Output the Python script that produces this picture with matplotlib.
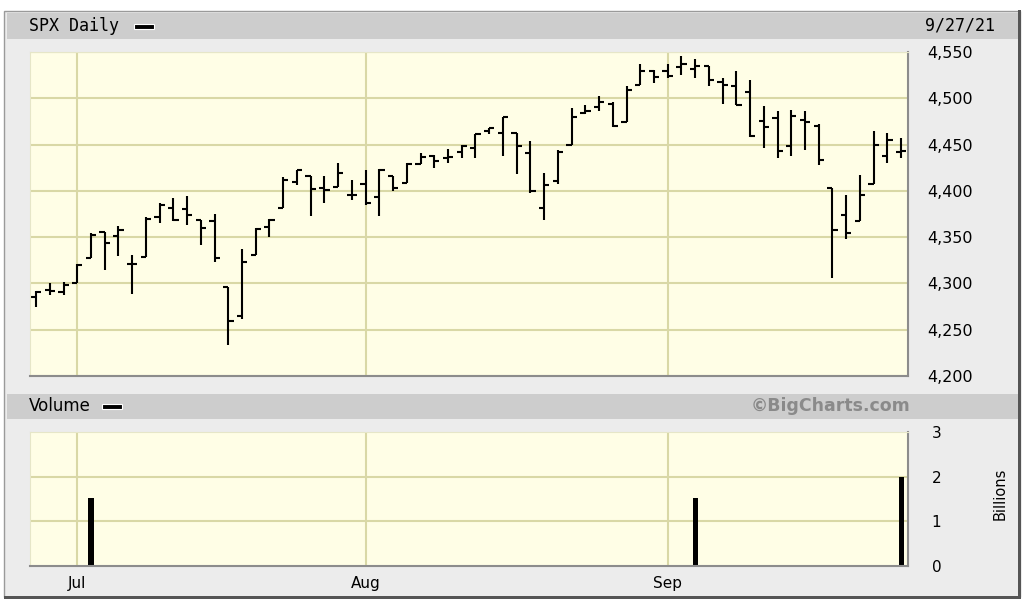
import matplotlib
matplotlib.use('Agg')
import matplotlib.pyplot as plt
from matplotlib.patches import Rectangle
import numpy as np

W, H = 1024, 601

# trading days shown on the chart
days = ['Jun 28', 'Jun 29', 'Jun 30',
        'Jul 1', 'Jul 2', 'Jul 6', 'Jul 7', 'Jul 8', 'Jul 9', 'Jul 12', 'Jul 13', 'Jul 14',
        'Jul 15', 'Jul 16', 'Jul 19', 'Jul 20', 'Jul 21', 'Jul 22', 'Jul 23', 'Jul 26',
        'Jul 27', 'Jul 28', 'Jul 29', 'Jul 30',
        'Aug 2', 'Aug 3', 'Aug 4', 'Aug 5', 'Aug 6', 'Aug 9', 'Aug 10', 'Aug 11', 'Aug 12',
        'Aug 13', 'Aug 16', 'Aug 17', 'Aug 18', 'Aug 19', 'Aug 20', 'Aug 23', 'Aug 24',
        'Aug 25', 'Aug 26', 'Aug 27', 'Aug 30', 'Aug 31',
        'Sep 1', 'Sep 2', 'Sep 3', 'Sep 7', 'Sep 8', 'Sep 9', 'Sep 10', 'Sep 13', 'Sep 14',
        'Sep 15', 'Sep 16', 'Sep 17', 'Sep 20', 'Sep 21', 'Sep 22', 'Sep 23', 'Sep 24', 'Sep 27']

opens = [4285, 4293, 4291, 4301, 4327, 4356, 4351, 4321, 4329, 4372, 4381, 4380,
         4369, 4367, 4296, 4265, 4331, 4361, 4381, 4410, 4416, 4403, 4404, 4395,
         4407, 4393, 4416, 4409, 4429, 4438, 4436, 4442, 4446, 4465, 4462, 4462,
         4441, 4382, 4411, 4450, 4484, 4491, 4494, 4474, 4514, 4530,
         4529, 4534, 4532, 4535, 4518, 4513, 4507, 4475, 4479, 4448, 4477, 4470,
         4403, 4374, 4367, 4407, 4438, 4442]
highs = [4292, 4300, 4302, 4321, 4355, 4356, 4362, 4331, 4372, 4387, 4392, 4394,
         4369, 4375, 4296, 4337, 4360, 4370, 4415, 4423, 4416, 4416, 4430, 4412,
         4422, 4424, 4416, 4430, 4441, 4439, 4445, 4449, 4461, 4468, 4480, 4462,
         4454, 4419, 4444, 4490, 4493, 4502, 4496, 4513, 4537, 4531,
         4537, 4546, 4542, 4535, 4522, 4530, 4520, 4492, 4486, 4487, 4486, 4472,
         4403, 4395, 4417, 4465, 4463, 4457]
lows = [4275, 4287, 4288, 4301, 4327, 4314, 4330, 4289, 4329, 4365, 4367, 4363,
        4341, 4323, 4233, 4262, 4331, 4350, 4381, 4406, 4373, 4387, 4404, 4390,
        4385, 4373, 4400, 4409, 4429, 4425, 4430, 4436, 4436, 4461, 4438, 4418,
        4398, 4368, 4407, 4450, 4483, 4486, 4469, 4474, 4514, 4516,
        4522, 4525, 4522, 4513, 4494, 4493, 4458, 4446, 4436, 4438, 4444, 4428,
        4306, 4348, 4367, 4407, 4430, 4436]
closes = [4291, 4292, 4298, 4320, 4352, 4344, 4358, 4321, 4370, 4385, 4369, 4374,
          4360, 4327, 4259, 4323, 4359, 4368, 4412, 4422, 4402, 4401, 4419, 4395,
          4387, 4423, 4403, 4429, 4437, 4432, 4437, 4448, 4461, 4468, 4480, 4448,
          4400, 4406, 4442, 4480, 4486, 4496, 4470, 4509, 4529, 4523,
          4524, 4537, 4535, 4520, 4514, 4493, 4459, 4469, 4443, 4481, 4474, 4433,
          4358, 4354, 4396, 4449, 4455, 4443]

vol_days = ['Jul 2', 'Sep 3', 'Sep 27']
vol_billions = [1.52, 1.52, 2.0]

month_days = ['Jul 1', 'Aug 2', 'Sep 1']
month_labels = ['Jul', 'Aug', 'Sep']

price_ticks = [4200, 4250, 4300, 4350, 4400, 4450, 4500, 4550]
vol_ticks = [0, 1, 2, 3]

BG = '#ececec'
HEAD = '#cdcdcd'
PLOT_BG = '#fffee6'
GRID = '#d9d8a6'


def box(x0, y0, x1, y1):
    # pixel box (top-left origin) -> figure fraction rect
    return [x0 / W, 1 - y1 / H, (x1 - x0) / W, (y1 - y0) / H]


def fx(x):
    return x / W


def fy(y):
    return 1 - y / H


def fig_rect(x0, y0, x1, y1, z=-5, **kw):
    fig.add_artist(Rectangle((fx(x0), fy(y1)), (x1 - x0) / W, (y1 - y0) / H,
                             transform=fig.transFigure, zorder=z, **kw))


fig = plt.figure(figsize=(W / 100, H / 100), dpi=100)
fig.patch.set_facecolor('white')

# outer frame
fig_rect(4, 11, 1020, 597, z=-10, facecolor=BG, edgecolor='#9a9a9a', linewidth=1)
fig_rect(1018, 10, 1021, 599, z=-9, facecolor='#555555', edgecolor='none')
fig_rect(4, 596, 1021, 599, z=-9, facecolor='#555555', edgecolor='none')

# header bars
for y0, y1 in [(13, 39), (394, 419)]:
    fig_rect(7, y0, 1018, y1, z=-8, facecolor=HEAD, edgecolor='none')

x = np.arange(len(days))
pos = {d: i for i, d in enumerate(days)}
xlim = (-0.44, 63.5)
tick = 0.38

# price panel
ax = fig.add_axes(box(30, 52, 908, 376))
ax.set_facecolor(PLOT_BG)
ax.set_xlim(*xlim)
ax.set_ylim(4200, 4550)
for p in price_ticks:
    ax.axhline(p, color=GRID, lw=1.5, zorder=0)
for d in month_days:
    ax.axvline(pos[d], color=GRID, lw=1.5, zorder=0)
ax.vlines(x, lows, highs, color='black', lw=1.5)
ax.hlines(opens, x - tick, x, color='black', lw=1.5)
ax.hlines(closes, x, x + tick, color='black', lw=1.5)
ax.set_xticks([])
ax.yaxis.tick_right()
ax.set_yticks(price_ticks)
ax.set_yticklabels(['{:,}'.format(p) for p in price_ticks], fontsize=11.5, family='DejaVu Sans')
ax.tick_params(axis='y', length=0, pad=14)
for s in ['top', 'left']:
    ax.spines[s].set_color('#e6e6c8')
for s in ['bottom', 'right']:
    ax.spines[s].set_color('#8c8c8c')
    ax.spines[s].set_linewidth(1.5)

# volume panel
av = fig.add_axes(box(30, 432, 908, 566))
av.set_facecolor(PLOT_BG)
av.set_xlim(*xlim)
av.set_ylim(0, 3)
for v in vol_ticks[1:3]:
    av.axhline(v, color=GRID, lw=1.5, zorder=0)
for d in month_days:
    av.axvline(pos[d], color=GRID, lw=1.5, zorder=0)
av.bar([pos[d] for d in vol_days], vol_billions, width=0.38, color='black')
av.set_xticks([pos[d] for d in month_days])
av.set_xticklabels(month_labels, fontsize=11)
av.tick_params(axis='x', length=0, pad=7)
av.yaxis.tick_right()
av.set_yticks(vol_ticks)
av.set_yticklabels([str(v) for v in vol_ticks], fontsize=11)
av.tick_params(axis='y', length=0, pad=17)
for s in ['top', 'left']:
    av.spines[s].set_color('#e6e6c8')
for s in ['bottom', 'right']:
    av.spines[s].set_color('#8c8c8c')
    av.spines[s].set_linewidth(1.5)

# header texts
fig.text(fx(29), fy(26), 'SPX Daily', family='DejaVu Sans Mono', fontsize=12, va='center', ha='left')
fig_rect(134, 24, 154, 29, z=2, facecolor='black', edgecolor='white', linewidth=0.8)
fig.text(fx(995), fy(26), '9/27/21', family='DejaVu Sans Mono', fontsize=12, va='center', ha='right')

fig.text(fx(29), fy(406), 'Volume', fontsize=12, va='center', ha='left')
fig_rect(102, 404, 122, 409, z=2, facecolor='black', edgecolor='white', linewidth=0.8)
fig.text(fx(910), fy(406), '©BigCharts.com', fontsize=12.5, fontweight='bold', color='#8a8a8a',
         va='center', ha='right')
fig.text(fx(1000), fy(494), 'Billions', fontsize=10.5, rotation=90, va='center', ha='center')

fig.savefig('out.png', dpi=100, facecolor=fig.get_facecolor())
